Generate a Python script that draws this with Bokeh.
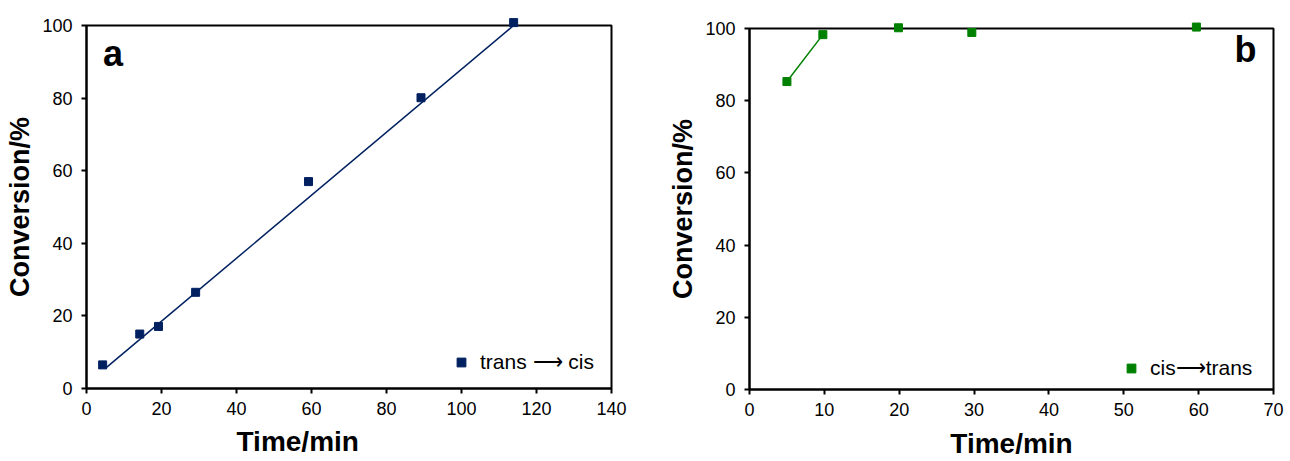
import numpy as np
from bokeh.plotting import figure
from bokeh.layouts import row, column
from bokeh.models import Range1d, FixedTicker, Legend, LegendItem, Label, Title
from bokeh.embed import file_html
from bokeh.resources import INLINE

# Panel a: trans -> cis
time_a = [4.3, 14.2, 19.2, 29.1, 59.2, 89.2, 113.9]
conv_a = [6.5, 15.0, 17.1, 26.5, 57.0, 80.1, 100.8]
trend_time_a = [5.1, 113.9]
trend_conv_a = [5.6, 100.0]
xticks_a = [0, 20, 40, 60, 80, 100, 120, 140]

# Panel b: cis -> trans
time_b = [5.0, 9.8, 19.9, 29.7, 59.7]
conv_b = [85.3, 98.3, 100.2, 98.9, 100.4]
line_time_b = [5.0, 9.8]
line_conv_b = [85.3, 98.3]
xticks_b = [0, 10, 20, 30, 40, 50, 60, 70]
yticks = [0, 20, 40, 60, 80, 100]

NAVY = "#002060"
GREEN = "#008000"
FONT = "Liberation Sans"


def style(p, xticks):
    p.xgrid.visible = False
    p.ygrid.visible = False
    p.outline_line_color = "black"
    p.outline_line_width = 2
    p.background_fill_color = "white"
    p.border_fill_color = "white"
    p.xaxis.ticker = FixedTicker(ticks=xticks)
    p.yaxis.ticker = FixedTicker(ticks=yticks)
    for ax in (p.xaxis[0], p.yaxis[0]):
        ax.axis_line_color = "black"
        ax.axis_line_width = 2
        ax.major_tick_line_color = "black"
        ax.major_tick_line_width = 2
        ax.major_tick_in = 0
        ax.major_tick_out = 5
        ax.minor_tick_line_color = None
        ax.major_label_text_font = FONT
        ax.major_label_text_font_size = "18px"
        ax.major_label_text_color = "black"
        ax.axis_label_text_font = FONT
        ax.axis_label_text_font_style = "bold"
        ax.axis_label_text_color = "black"
    p.xaxis.axis_label_text_font_size = "28px"
    p.yaxis.axis_label_text_font_size = "27px"
    p.yaxis.axis_label = "Conversion/%"
    p.xaxis.major_label_standoff = 8
    p.xaxis.axis_label_standoff = 9
    p.yaxis.major_label_standoff = 9
    p.yaxis.axis_label_standoff = 4


def legend(renderer, text, loc):
    return Legend(items=[LegendItem(label=text, renderers=[renderer])], location=loc,
                  padding=0, margin=0, glyph_width=22, glyph_height=22, label_standoff=8,
                  label_text_font=FONT, label_text_font_size="21px", label_text_color="black",
                  background_fill_alpha=0, border_line_alpha=0)


# ---- left panel
pa = figure(frame_width=525, frame_height=363, min_border_left=86, min_border_right=29,
            min_border_top=25, min_border_bottom=73,
            x_range=Range1d(0, 140), y_range=Range1d(0, 100),
            output_backend="svg", toolbar_location=None)
style(pa, xticks_a)
pa.line(trend_time_a, trend_conv_a, line_color=NAVY, line_width=1.5)
ra = pa.scatter(time_a, conv_a, marker="square", size=8, fill_color=NAVY, line_color=NAVY, level="overlay")
pa.add_layout(legend(ra, "trans \u27f6 cis", (364, 14)))
pa.add_layout(Label(x=4.4, y=92.4, text="a", text_font=FONT, text_font_size="36px",
                    text_font_style="bold", text_baseline="alphabetic", text_color="black"))
pa.add_layout(Title(text="Time/min", align="left", offset=150, standoff=13,
                    text_font=FONT, text_font_size="28px", text_font_style="bold",
                    text_color="black"), "below")

# ---- right panel
pb = figure(frame_width=524, frame_height=361, min_border_left=109, min_border_right=17,
            min_border_top=28, min_border_bottom=72,
            x_range=Range1d(0, 70), y_range=Range1d(0, 100),
            output_backend="svg", toolbar_location=None)
style(pb, xticks_b)
pb.xaxis.axis_label = "Time/min"
pb.line(line_time_b, line_conv_b, line_color=GREEN, line_width=1.5)
rb = pb.scatter(time_b, conv_b, marker="square", size=8, fill_color=GREEN, line_color=GREEN, level="overlay")
pb.add_layout(legend(rb, "cis\u27f6trans", (371, 9)))
pb.add_layout(Label(x=64.8, y=94.2, text="b", text_font=FONT, text_font_size="36px",
                    text_font_style="bold", text_baseline="alphabetic", text_color="black"))

layout = row(column(pa), column(pb), spacing=0)
open("out.html", "w").write(file_html(layout, INLINE))
